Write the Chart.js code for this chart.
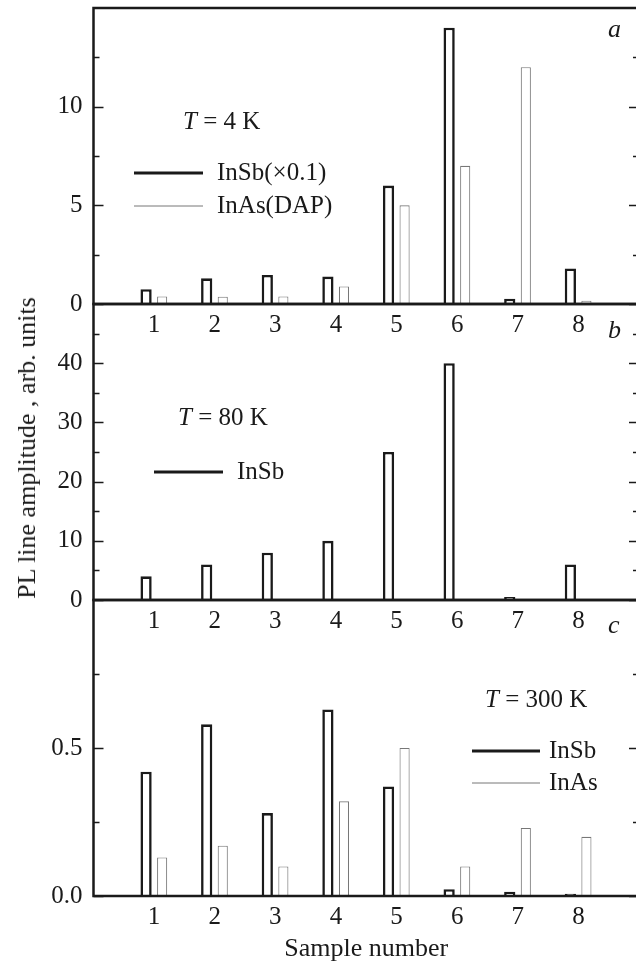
<!DOCTYPE html>
<html>
<head>
<meta charset="utf-8">
<title>PL line amplitude vs sample number</title>
<script src="https://cdn.jsdelivr.net/npm/chart.js@4.4.1/dist/chart.umd.min.js"></script>
<style>
  html, body { margin: 0; padding: 0; background: #fff; overflow: hidden; }
  #wrap { position: relative; width: 636px; height: 963px; overflow: hidden; }
  #wrap canvas { position: absolute; left: 0; }
  #ytitle {
    position: absolute; left: 27px; top: 448px;
    transform: translate(-50%, -50%) rotate(-90deg);
    font: 26px "Liberation Serif", "DejaVu Serif", serif; color: #1a1a1a;
    white-space: nowrap;
  }
</style>
</head>
<body>
<div id="wrap">
  <canvas id="panelA"></canvas>
  <canvas id="panelB"></canvas>
  <canvas id="panelC"></canvas>
  <div id="ytitle">PL line amplitude , arb. units</div>
</div>
<script>
const samples = [1, 2, 3, 4, 5, 6, 7, 8];

// T = 4 K (InSb already scaled by 0.1)
const inSb4K = [0.75, 1.3, 1.47, 1.39, 6.0, 14.0, 0.27, 1.8];
const inAs4K = [0.38, 0.37, 0.38, 0.89, 5.0, 7.0, 12.0, 0.17];
const yMajor4K = [0, 5, 10];
const yMinor4K = [2.5, 7.5, 12.5];

// T = 80 K
const inSb80K = [4, 6, 8, 10, 25, 40, 0.5, 6];
const inAs80K = [];
const yMajor80K = [0, 10, 20, 30, 40];
const yMinor80K = [5, 15, 25, 35, 45];

// T = 300 K
const inSb300K = [0.42, 0.58, 0.28, 0.63, 0.37, 0.023, 0.014, 0.008];
const inAs300K = [0.13, 0.17, 0.1, 0.32, 0.5, 0.1, 0.23, 0.2];
const yMajor300K = [0, 0.5];
const yMinor300K = [0.25, 0.75];

const INK = '#1a1a1a';
const THIN = '#777';
const SERIF = '"Liberation Serif", "DejaVu Serif", serif';
const AREA_H = 296;   // plot height of one panel
const PAD_TOP = 40;
const X_AXIS_H = 50;

function points(values) {
  return values.map((v, i) => ({ x: samples[i], y: v }));
}

function thickSet(label, values) {
  return {
    label, data: points(values),
    backgroundColor: '#fff', borderColor: INK, borderWidth: 2.6,
    barPercentage: 0.7, categoryPercentage: 0.53
  };
}

function thinSet(label, values) {
  return {
    label, data: points(values),
    backgroundColor: '#fff', borderColor: THIN, borderWidth: 1.1,
    barPercentage: 0.63, categoryPercentage: 0.53
  };
}

// frame, inward ticks on both sides, panel letter, temperature and legend
const panelDecor = {
  id: 'panelDecor',
  afterDraw(chart, args, opts) {
    const { ctx, chartArea: a } = chart;
    const y = chart.scales.y;
    ctx.save();
    ctx.strokeStyle = INK;
    ctx.lineWidth = 1.5;
    const tick = (v, len) => {
      const py = Math.round(y.getPixelForValue(v)) + 0.5;
      ctx.beginPath();
      ctx.moveTo(a.left, py); ctx.lineTo(a.left + len, py);
      ctx.moveTo(a.right - len, py); ctx.lineTo(a.right, py);
      ctx.stroke();
    };
    opts.major.forEach(v => tick(v, 10));
    opts.minor.forEach(v => tick(v, 6));

    ctx.lineWidth = 2.5;
    ctx.strokeRect(a.left, a.top, a.right - a.left, a.bottom - a.top);

    ctx.fillStyle = INK;
    ctx.textBaseline = 'alphabetic';
    ctx.textAlign = 'left';

    // panel letter
    ctx.font = 'italic 26px ' + SERIF;
    ctx.fillText(opts.letter, 608, a.top + opts.letterY);

    // "T = ... K" with italic T
    ctx.font = 'italic 25px ' + SERIF;
    ctx.fillText('T', opts.tempX, a.top + opts.tempY);
    const tw = ctx.measureText('T').width;
    ctx.font = '25px ' + SERIF;
    ctx.fillText(' = ' + opts.temp + ' K', opts.tempX + tw, a.top + opts.tempY);

    // legend rows: line sample styled like its dataset, then text
    ctx.textBaseline = 'middle';
    opts.legend.forEach(row => {
      const ds = chart.data.datasets[row.ds];
      const ly = a.top + row.y;
      ctx.strokeStyle = ds.borderColor;
      ctx.lineWidth = row.ds === 0 ? 3 : 1;
      ctx.beginPath();
      ctx.moveTo(row.x0, ly); ctx.lineTo(row.x1, ly);
      ctx.stroke();
      ctx.fillText(row.text, row.tx, ly);
    });

    if (opts.xTitle) {
      ctx.textAlign = 'center';
      ctx.textBaseline = 'alphabetic';
      ctx.font = '26px ' + SERIF;
      ctx.fillText(opts.xTitle, (a.left + a.right) / 2, a.bottom + 60);
    }
    ctx.restore();
  }
};

function makePanel(id, cfg) {
  const el = document.getElementById(id);
  el.width = 641;
  el.height = cfg.height;
  el.style.top = (cfg.areaTop - PAD_TOP) + 'px';
  return new Chart(el, {
    type: 'bar',
    data: { datasets: cfg.datasets },
    options: {
      responsive: false,
      animation: false,
      layout: { padding: { top: PAD_TOP, bottom: cfg.height - PAD_TOP - AREA_H - X_AXIS_H, left: 0, right: 2 } },
      plugins: {
        legend: { display: false },
        tooltip: { enabled: false },
        panelDecor: cfg.decor
      },
      scales: {
        x: {
          type: 'linear', min: 0, max: 9, offset: false,
          afterBuildTicks: s => { s.ticks = samples.map(v => ({ value: v })); },
          afterFit: s => { s.height = X_AXIS_H; },
          grid: { display: false, drawTicks: false },
          border: { display: false },
          ticks: { autoSkip: false, maxRotation: 0, padding: 6, color: INK, font: { family: SERIF, size: 25 } }
        },
        y: {
          min: 0, max: cfg.yMax,
          afterBuildTicks: s => { s.ticks = cfg.decor.major.map(v => ({ value: v })); },
          afterFit: s => { s.width = 93.5; },
          grid: { display: false, drawTicks: false },
          border: { display: false },
          ticks: {
            autoSkip: false, padding: 11, color: INK, font: { family: SERIF, size: 25 },
            callback: v => v.toFixed(cfg.decimals)
          }
        }
      }
    },
    plugins: [panelDecor]
  });
}

makePanel('panelA', {
  areaTop: 8, height: 400, yMax: 15, decimals: 0,
  datasets: [thickSet('InSb(×0.1)', inSb4K), thinSet('InAs(DAP)', inAs4K)],
  decor: {
    major: yMajor4K, minor: yMinor4K, letter: 'a', letterY: 29,
    temp: '4', tempX: 183, tempY: 121,
    legend: [
      { ds: 0, text: 'InSb(×0.1)', x0: 134, x1: 203, tx: 217, y: 165 },
      { ds: 1, text: 'InAs(DAP)', x0: 134, x1: 203, tx: 217, y: 198 }
    ]
  }
});

makePanel('panelB', {
  areaTop: 304, height: 400, yMax: 50, decimals: 0,
  datasets: [thickSet('InSb', inSb80K), thinSet('InAs', inAs80K)],
  decor: {
    major: yMajor80K, minor: yMinor80K, letter: 'b', letterY: 34,
    temp: '80', tempX: 178, tempY: 121,
    legend: [
      { ds: 0, text: 'InSb', x0: 154, x1: 223, tx: 237, y: 168 }
    ]
  }
});

makePanel('panelC', {
  areaTop: 600, height: 410, yMax: 1.0, decimals: 1,
  datasets: [thickSet('InSb', inSb300K), thinSet('InAs', inAs300K)],
  decor: {
    major: yMajor300K, minor: yMinor300K, letter: 'c', letterY: 33,
    temp: '300', tempX: 485, tempY: 107,
    xTitle: 'Sample number',
    legend: [
      { ds: 0, text: 'InSb', x0: 472, x1: 540, tx: 549, y: 151 },
      { ds: 1, text: 'InAs', x0: 472, x1: 540, tx: 549, y: 183 }
    ]
  }
});
</script>
</body>
</html>
